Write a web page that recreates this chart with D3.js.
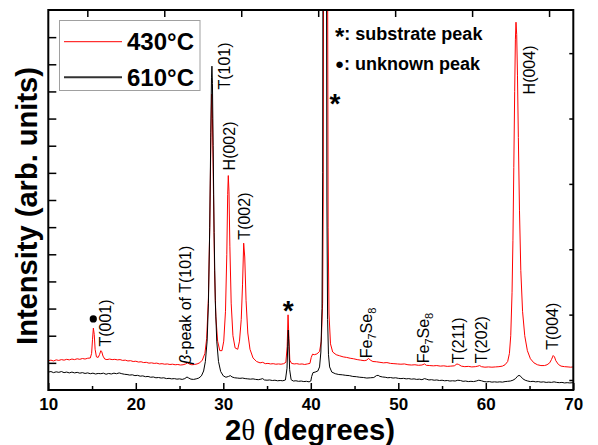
<!DOCTYPE html>
<html>
<head>
<meta charset="utf-8">
<script src="https://cdn.jsdelivr.net/npm/d3@7"></script>
<style>
  body { margin: 0; background: #fff; }
  svg { display: block; }
  svg text { font-family: "Liberation Sans", Arial, sans-serif; }
</style>
</head>
<body>
<svg id="chart" width="598" height="445"></svg>
<script>
// XRD scans, [2theta, intensity (arb.)]
const scan430 = [
  [10.0,1.08],[10.3,1.10],[10.6,1.07],[10.9,1.11],[11.2,1.09],[11.5,1.12],[11.8,1.10],[12.1,1.13],
  [12.4,1.11],[12.7,1.14],[13.0,1.12],[13.3,1.15],[13.6,1.13],[13.9,1.16],[14.2,1.14],[14.5,1.17],
  [14.8,1.18],[14.95,1.35],[15.05,1.85],[15.15,2.28],[15.25,2.05],[15.35,1.5],[15.5,1.22],[15.7,1.2],
  [15.85,1.3],[16.0,1.45],[16.1,1.42],[16.25,1.25],[16.45,1.14],[16.7,1.12],[17.0,1.14],[17.3,1.12],
  [17.6,1.13],[17.9,1.11],[18.2,1.12],[18.5,1.09],[18.8,1.10],[19.1,1.07],[19.4,1.08],[19.7,1.05],
  [20.0,1.06],[20.3,1.03],[20.6,1.04],[20.9,1.01],[21.2,1.02],[21.5,0.99],[21.8,1.00],[22.1,0.98],
  [22.4,0.99],[22.7,0.96],[23.0,0.97],[23.3,0.95],[23.6,0.96],[23.9,0.94],[24.2,0.95],[24.5,0.93],
  [24.8,0.94],[25.1,0.92],[25.4,0.93],[25.7,0.96],[25.9,1.00],[26.1,0.96],[26.4,0.93],[26.7,0.94],
  [27.0,0.96],[27.3,1.0],[27.6,1.1],[27.9,1.35],[28.1,1.9],[28.3,3.4],[28.45,6.0],[28.58,9.3],
  [28.67,10.9],[28.76,10.0],[28.88,7.2],[29.0,4.4],[29.15,2.7],[29.35,1.8],[29.6,1.45],[29.85,1.45],
  [30.05,1.8],[30.25,2.9],[30.4,5.0],[30.5,7.2],[30.57,7.9],[30.65,7.3],[30.75,5.3],[30.9,3.2],
  [31.1,2.0],[31.35,1.55],[31.65,1.5],[31.85,1.8],[32.05,2.6],[32.2,3.9],[32.33,5.41],[32.45,4.9],
  [32.6,3.3],[32.8,2.1],[33.05,1.5],[33.4,1.18],[33.8,1.05],[34.2,1.0],[34.5,1.02],[34.8,0.97],
  [35.1,0.98],[35.4,0.96],[35.7,0.97],[36.0,0.95],[36.3,0.96],[36.6,0.95],[36.9,0.97],[37.15,1.02],
  [37.3,1.6],[37.4,2.77],[37.5,1.9],[37.6,1.1],[37.8,0.98],[38.1,0.96],[38.4,0.97],[38.7,0.95],
  [39.0,0.96],[39.3,0.94],[39.6,0.96],[39.9,0.98],[40.05,1.2],[40.2,1.32],[40.4,1.3],[40.7,1.33],
  [41.0,1.42],[41.2,1.8],[41.35,3.2],[41.42,7],[41.46,16],[41.5,40],[41.86,40],[41.92,16],
  [41.98,6],[42.08,2.8],[42.25,1.7],[42.5,1.4],[42.9,1.3],[43.3,1.26],[43.7,1.22],[44.1,1.2],
  [44.5,1.17],[44.9,1.15],[45.3,1.12],[45.7,1.1],[46.1,1.08],[46.4,1.1],[46.6,1.17],[46.8,1.1],
  [47.1,1.05],[47.5,1.04],[47.9,1.02],[48.3,1.0],[48.7,1.01],[49.1,0.98],[49.5,0.97],[49.9,0.96],
  [50.3,0.95],[50.7,0.96],[51.1,0.93],[51.5,0.92],[51.9,0.93],[52.3,0.91],[52.7,0.92],[53.0,0.96],
  [53.2,0.91],[53.6,0.9],[54.0,0.89],[54.4,0.9],[54.8,0.88],[55.2,0.89],[55.6,0.87],[56.0,0.88],
  [56.4,0.89],[56.7,0.96],[56.9,0.94],[57.2,0.88],[57.6,0.86],[58.0,0.87],[58.4,0.85],[58.8,0.86],
  [59.1,0.88],[59.3,0.9],[59.5,0.86],[59.9,0.84],[60.3,0.85],[60.7,0.84],[61.1,0.85],[61.5,0.86],
  [61.9,0.88],[62.2,0.93],[62.5,1.05],[62.7,1.35],[62.85,2.0],[63.0,3.6],[63.1,5.5],[63.2,8.2],
  [63.3,11.0],[63.38,12.9],[63.45,13.55],[63.53,13.1],[63.62,11.6],[63.72,9.3],[63.85,6.6],[64.0,4.4],
  [64.2,2.9],[64.45,2.0],[64.75,1.45],[65.1,1.15],[65.5,1.0],[65.9,0.93],[66.3,0.9],[66.7,0.9],
  [67.0,0.93],[67.3,1.0],[67.5,1.12],[67.7,1.27],[67.85,1.22],[68.0,1.08],[68.3,0.94],[68.6,0.88],
  [69.0,0.86],[69.4,0.85],[69.7,0.84],[70.0,0.85]
]

const scan610 = [
  [10.0,0.66],[10.3,0.68],[10.6,0.64],[10.9,0.67],[11.2,0.65],[11.5,0.68],[11.8,0.64],[12.1,0.66],
  [12.4,0.63],[12.7,0.66],[13.0,0.63],[13.3,0.65],[13.6,0.62],[13.9,0.64],[14.2,0.61],[14.5,0.63],
  [14.8,0.6],[15.1,0.62],[15.4,0.59],[15.7,0.61],[16.0,0.6],[16.3,0.62],[16.6,0.58],[16.9,0.61],
  [17.2,0.59],[17.5,0.62],[17.8,0.6],[18.1,0.63],[18.4,0.6],[18.7,0.58],[19.0,0.57],[19.3,0.55],
  [19.6,0.56],[19.9,0.53],[20.2,0.54],[20.5,0.51],[20.8,0.52],[21.1,0.49],[21.4,0.5],[21.7,0.47],
  [22.0,0.48],[22.3,0.45],[22.6,0.46],[22.9,0.44],[23.2,0.45],[23.5,0.42],[23.8,0.43],[24.1,0.41],
  [24.4,0.42],[24.7,0.4],[25.0,0.41],[25.3,0.39],[25.6,0.42],[25.85,0.48],[26.05,0.44],[26.3,0.4],
  [26.6,0.39],[26.9,0.41],[27.2,0.44],[27.5,0.52],[27.75,0.7],[27.95,1.05],[28.15,1.8],[28.3,3.2],
  [28.45,6.0],[28.57,9.5],[28.65,11.5],[28.7,11.93],[28.76,11.3],[28.84,9.0],[28.95,5.8],[29.08,3.3],
  [29.25,1.8],[29.45,1.05],[29.7,0.68],[30.0,0.52],[30.3,0.47],[30.6,0.5],[30.8,0.53],[31.0,0.48],
  [31.3,0.45],[31.6,0.44],[31.9,0.43],[32.2,0.44],[32.5,0.42],[32.8,0.41],[33.1,0.4],[33.4,0.41],
  [33.7,0.39],[34.0,0.38],[34.3,0.4],[34.5,0.42],[34.7,0.37],[35.0,0.36],[35.3,0.37],[35.6,0.35],
  [35.9,0.36],[36.2,0.34],[36.5,0.35],[36.8,0.34],[37.1,0.37],[37.28,0.8],[37.38,1.8],[37.43,2.21],
  [37.5,1.6],[37.58,0.75],[37.75,0.38],[38.0,0.33],[38.3,0.34],[38.6,0.32],[38.9,0.33],[39.2,0.31],
  [39.5,0.32],[39.8,0.3],[40.0,0.33],[40.1,0.5],[40.25,0.64],[40.5,0.66],[40.8,0.7],[41.0,0.85],
  [41.15,1.4],[41.28,3],[41.36,8],[41.4,20],[41.44,40],[41.74,40],[41.78,18],[41.84,7],
  [41.92,2.6],[42.02,1.3],[42.15,0.85],[42.4,0.66],[42.8,0.6],[43.2,0.57],[43.6,0.56],[44.0,0.54],
  [44.4,0.53],[44.8,0.5],[45.2,0.49],[45.6,0.47],[46.0,0.46],[46.4,0.44],[46.8,0.45],[47.2,0.46],
  [47.5,0.53],[47.7,0.54],[47.9,0.5],[48.2,0.48],[48.5,0.47],[48.8,0.45],[49.1,0.46],[49.4,0.44],
  [49.7,0.45],[50.0,0.43],[50.3,0.42],[50.6,0.43],[50.9,0.41],[51.2,0.42],[51.5,0.4],[51.8,0.41],
  [52.1,0.39],[52.4,0.4],[52.7,0.38],[53.0,0.42],[53.2,0.4],[53.5,0.37],[53.8,0.38],[54.1,0.36],
  [54.4,0.37],[54.7,0.35],[55.0,0.36],[55.3,0.34],[55.6,0.35],[55.9,0.33],[56.2,0.34],[56.5,0.33],
  [56.8,0.36],[57.1,0.35],[57.4,0.32],[57.7,0.33],[58.0,0.31],[58.3,0.32],[58.6,0.31],[58.9,0.33],
  [59.2,0.36],[59.5,0.34],[59.8,0.31],[60.1,0.3],[60.4,0.31],[60.7,0.29],[61.0,0.3],[61.3,0.29],
  [61.6,0.3],[61.9,0.29],[62.2,0.31],[62.5,0.32],[62.8,0.33],[63.1,0.36],[63.4,0.42],[63.6,0.5],
  [63.8,0.54],[64.0,0.5],[64.2,0.42],[64.5,0.36],[64.8,0.33],[65.1,0.31],[65.4,0.32],[65.7,0.3],
  [66.0,0.31],[66.3,0.29],[66.6,0.3],[66.9,0.28],[67.2,0.29],[67.5,0.28],[67.8,0.3],[68.1,0.28],
  [68.4,0.27],[68.7,0.28],[69.0,0.26],[69.3,0.27],[69.6,0.26],[70.0,0.27]
]

const seriesNames = ['430°C', '610°C']
const seriesColors = ['#ff0000', '#000000']
const xMajorTicks = [10, 20, 30, 40, 50, 60, 70]
const xMinorTicks = [15, 25, 35, 45, 55, 65]
const yLeftTicks = [1, 2, 3, 4, 5, 6, 7, 8, 9, 10, 11, 12, 13]
const yRightTicks = [0, 1, 2, 3, 4, 5]
const xTopTicks = [0, 1, 2, 3, 4, 5, 6]

// peak labels: parts of the text, and [2theta, intensity] of the start of the (rotated) label
const peakLabels = [
  {parts: [['T(001)']], at: [17.2, 1.6]},
  {parts: [['β', 'it'], ['-peak of T(101)']], at: [26.3, 0.96]},
  {parts: [['T(101)']], at: [30.75, 11.07]},
  {parts: [['H(002)']], at: [31.32, 8.09]},
  {parts: [['T(002)']], at: [33.03, 5.54]},
  {parts: [['Fe'], ['7', 'sub'], ['Se'], ['8', 'sub']], at: [47.05, 1.17]},
  {parts: [['Fe'], ['7', 'sub'], ['Se'], ['8', 'sub']], at: [53.55, 0.985]},
  {parts: [['T(211)']], at: [57.5, 0.985]},
  {parts: [['T(202)']], at: [60.17, 0.985]},
  {parts: [['H(004)']], at: [65.6, 10.89]},
  {parts: [['T(004)']], at: [68.27, 1.48]}
]
const substrateMarks = [[37.43, 3.14], [42.77, 10.77]]
const unknownMarks = [[15.14, 2.62]]

const width = 598, height = 445
const margin = {top: 10, right: 24.7, bottom: 55, left: 48.3}

const svg = d3.select('#chart')

const x = d3.scaleLinear().domain([10, 70]).range([margin.left, width - margin.right])
const y = d3.scaleLinear().domain([0, 14]).range([height - margin.bottom, margin.top])
// the top and right frame edges carry their own (unlabelled) tick spacing
const xTop = d3.scaleLinear().domain([-0.507, 6.315]).range(x.range())
const yRight = d3.scaleLinear().domain([-0.153, 5.66]).range(y.range())

const plotW = x.range()[1] - x.range()[0]
const plotH = y.range()[0] - y.range()[1]

svg.append('defs').append('clipPath').attr('id', 'clip')
  .append('rect')
  .attr('x', x.range()[0]).attr('y', y.range()[1])
  .attr('width', plotW).attr('height', plotH)

const line = d3.line().x(d => x(d[0])).y(d => y(d[1]))

const plot = svg.append('g').attr('clip-path', 'url(#clip)')
plot.append('path').datum(scan430)
  .attr('d', line).attr('fill', 'none')
  .attr('stroke', seriesColors[0]).attr('stroke-width', 1)
plot.append('path').datum(scan610)
  .attr('d', line).attr('fill', 'none')
  .attr('stroke', seriesColors[1]).attr('stroke-width', 1)

// axes (ticks point inward)
function styleAxis(g) {
  g.select('.domain').remove()
  g.selectAll('.tick line').attr('stroke', '#000').attr('stroke-width', 1.5)
}
const yBase = y.range()[0]
svg.append('g').attr('transform', `translate(0,${yBase})`)
  .call(d3.axisBottom(x).tickValues(xMajorTicks).tickSize(-7).tickPadding(8).tickFormat(d3.format('d')))
  .call(styleAxis)
  .call(g => g.attr('font-family', null).attr('font-size', null))
  .call(g => g.selectAll('text')
    .attr('font-size', 17).attr('font-weight', 'bold').attr('fill', '#000'))
svg.append('g').attr('transform', `translate(0,${yBase})`)
  .call(d3.axisBottom(x).tickValues(xMinorTicks).tickSize(-4).tickFormat(''))
  .call(styleAxis)
svg.append('g').attr('transform', `translate(0,${y.range()[1]})`)
  .call(d3.axisTop(xTop).tickValues(xTopTicks).tickSize(-7).tickFormat(''))
  .call(styleAxis)
svg.append('g').attr('transform', `translate(${x.range()[0]},0)`)
  .call(d3.axisLeft(y).tickValues(yLeftTicks).tickSize(-8).tickFormat(''))
  .call(styleAxis)
svg.append('g').attr('transform', `translate(${x.range()[1]},0)`)
  .call(d3.axisRight(yRight).tickValues(yRightTicks).tickSize(-4).tickFormat(''))
  .call(styleAxis)

svg.append('rect')
  .attr('x', x.range()[0]).attr('y', y.range()[1])
  .attr('width', plotW).attr('height', plotH)
  .attr('fill', 'none').attr('stroke', '#000').attr('stroke-width', 2)

// shrink/grow a title's font so its run matches the figure
function fitLength(sel, target) {
  const fs = +sel.attr('font-size')
  const len = sel.node().getComputedTextLength()
  if (len > 0) sel.attr('font-size', (fs * target / len).toFixed(2))
}

// axis titles
const xTitle = svg.append('text')
  .attr('x', 310).attr('y', 440)
  .attr('text-anchor', 'middle')
  .attr('font-size', 29).attr('font-weight', 'bold')
xTitle.append('tspan').text('2')
xTitle.append('tspan').text('θ')
  .style('font-family', '"Liberation Serif", "DejaVu Serif", serif').attr('font-weight', 'normal')
xTitle.append('tspan').text(' (degrees)')
fitLength(xTitle, 170)

const yTitle = svg.append('text')
  .attr('transform', 'translate(37,206) rotate(-90)')
  .attr('text-anchor', 'middle')
  .attr('font-size', 29).attr('font-weight', 'bold')
  .text('Intensity (arb. units)')
fitLength(yTitle, 278)

// peak labels
peakLabels.forEach(lab => {
  const t = svg.append('text')
    .attr('transform', `translate(${x(lab.at[0])},${y(lab.at[1])}) rotate(-90)`)
    .attr('font-size', 16)
  lab.parts.forEach(([s, kind], i) => {
    const prev = i > 0 ? lab.parts[i - 1][1] : null
    const sp = t.append('tspan').text(s)
    if (kind === 'it') sp.attr('font-style', 'italic')
    if (kind === 'sub') sp.attr('font-size', 11).attr('dy', 4)
    else if (prev === 'sub') sp.attr('dy', -4)
  })
})

svg.selectAll('.star').data(substrateMarks).join('text')
  .attr('class', 'star')
  .attr('x', d => x(d[0])).attr('y', d => y(d[1]) + 15)
  .attr('text-anchor', 'middle')
  .attr('font-size', 28).attr('font-weight', 'bold')
  .text('*')

svg.selectAll('.dot').data(unknownMarks).join('circle')
  .attr('class', 'dot')
  .attr('cx', d => x(d[0])).attr('cy', d => y(d[1]))
  .attr('r', 3.6).attr('fill', '#000')

// marker key
const key = svg.append('g').attr('font-size', 18).attr('font-weight', 'bold')
const k1 = key.append('text').attr('x', 335).attr('y', 40)
k1.append('tspan').text('*').attr('font-size', 24).attr('dy', 5)
k1.append('tspan').text(': substrate peak').attr('dy', -5)
const k2 = key.append('text').attr('x', 335).attr('y', 70)
k2.append('tspan').text('●').attr('font-size', 15).attr('dy', -1)
k2.append('tspan').text(': unknown peak').attr('dy', 1)

// series legend
const legend = svg.append('g')
legend.append('rect')
  .attr('x', 59.5).attr('y', 20.5).attr('width', 140.5).attr('height', 70)
  .attr('fill', '#fff').attr('stroke', '#a0a0a0').attr('stroke-width', 1)
seriesNames.forEach((name, i) => {
  const ly = 41.7 + i * 35.6
  legend.append('line')
    .attr('x1', 64).attr('x2', 122).attr('y1', ly).attr('y2', ly)
    .attr('stroke', i === 0 ? seriesColors[0] : '#333')
    .attr('stroke-width', i === 0 ? 1 : 2)
  legend.append('text')
    .attr('x', 127).attr('y', ly + 8.3)
    .attr('font-size', 24).attr('font-weight', 'bold')
    .text(name)
})
</script>
</body>
</html>
